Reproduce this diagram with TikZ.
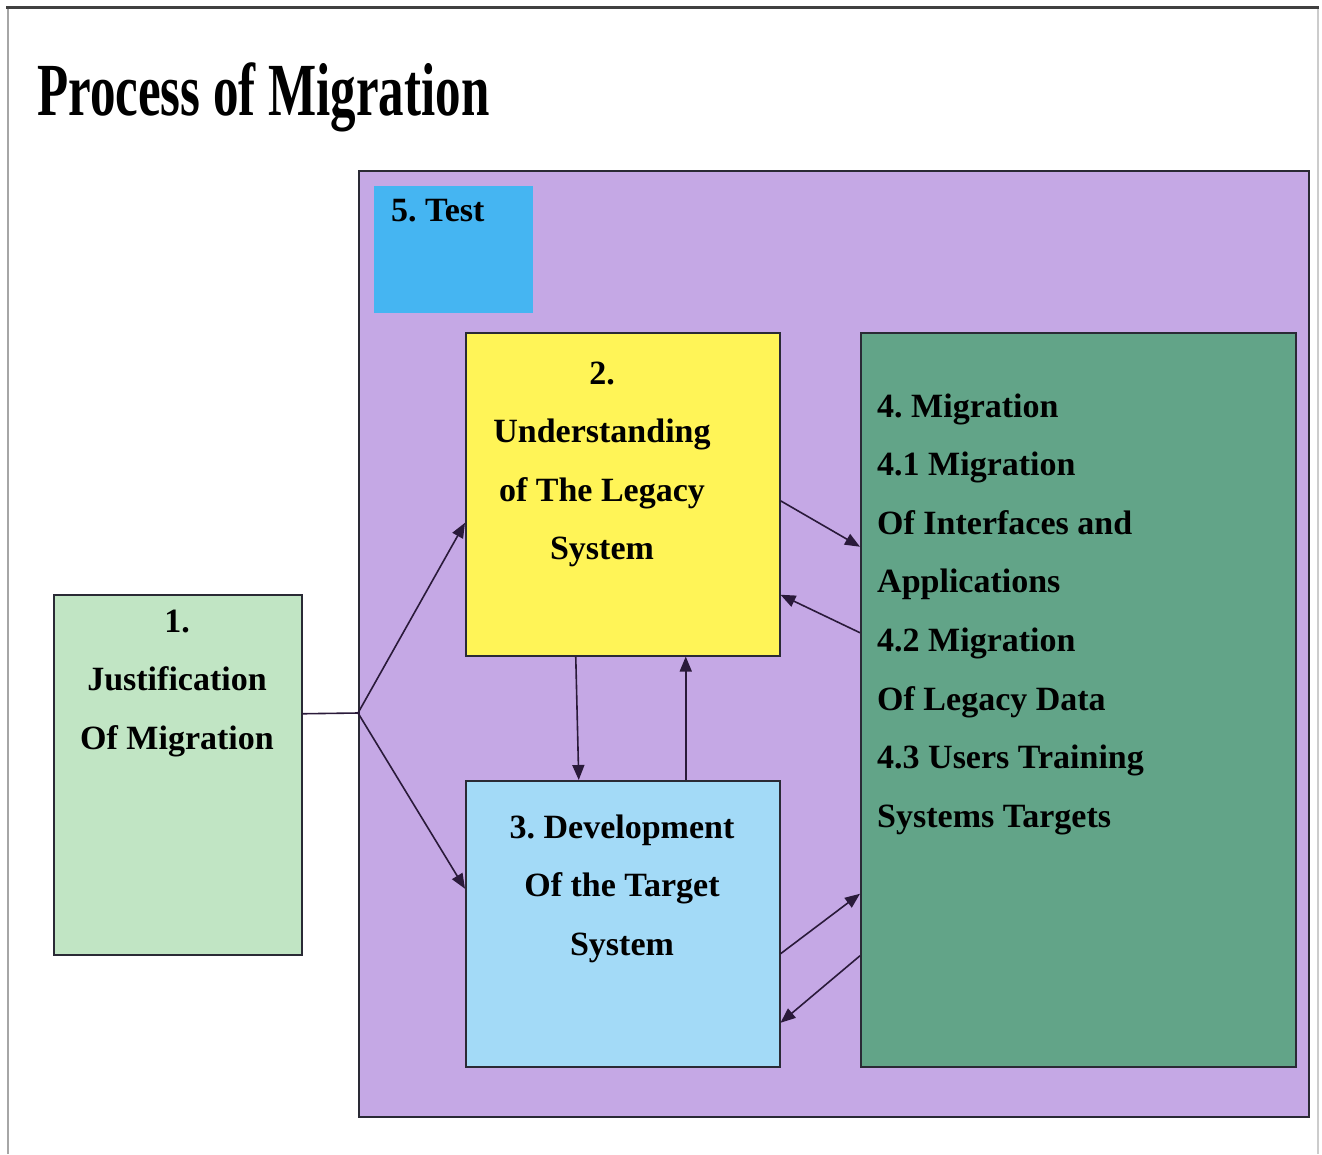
\documentclass[tikz,border=0pt]{standalone}
\usepackage{fontspec}
\setmainfont{Liberation Serif}
\usetikzlibrary{arrows.meta}
\definecolor{purplebg}{HTML}{C5A8E5}
\definecolor{testblue}{HTML}{45B5F2}
\definecolor{yellowbox}{HTML}{FFF457}
\definecolor{lightblue}{HTML}{A3DAF7}
\definecolor{darkgreen}{HTML}{62A488}
\definecolor{lightgreen}{HTML}{C1E5C4}
\definecolor{edge}{HTML}{2A2A35}
\definecolor{arrowcol}{HTML}{2A1A3A}
\newcommand\bodyfont{\fontsize{34}{58.6}\selectfont\bfseries\frenchspacing}
\begin{document}
\begin{tikzpicture}[x=1pt,y=-1pt,
  box/.style={draw=edge, line width=1.5pt, anchor=north west, inner sep=0pt, minimum width=#1},
  txt/.style={anchor=base, inner sep=0pt},
  conn/.style={draw=arrowcol, line width=1.6pt},
  arr/.style={conn, -{Triangle[length=15pt,width=12pt]}}
]
\useasboundingbox (0,0) rectangle (1322,1154);
% outer frame
\draw[gray!70, line width=1.5pt] (8,1154) -- (8,7);
\draw[gray!40, line width=1.2pt] (1318,7) -- (1318,1154);
\draw[black!75, line width=3pt] (6,7) -- (1319,7);
% title
\node[anchor=base west, inner sep=0pt] (title) at (37,115)
  {\scalebox{0.68}[1]{\fontsize{75}{80}\selectfont\bfseries Process of Migration}};
% purple test frame
\node[box=950pt, fill=purplebg, minimum height=946pt] (P) at (358,170) {};
% test box
\node[anchor=north west, inner sep=0pt, fill=testblue, minimum width=159pt, minimum height=127pt] (T) at (374,186) {};
\node[anchor=base west, inner sep=0pt] (Tt) at (391,221) {\bodyfont 5. Test};
% boxes
\node[box=248pt, fill=lightgreen, minimum height=360pt] (J) at (53,594) {};
\node[box=314pt, fill=yellowbox, minimum height=323pt] (Y) at (465,332) {};
\node[box=314pt, fill=lightblue, minimum height=286pt] (D) at (465,780) {};
\node[box=435pt, fill=darkgreen, minimum height=734pt] (M) at (860,332) {};
% texts
\node[txt] (Jt) at (177,632) {\parbox[t]{244pt}{\centering\bodyfont 1.\\Justification\\Of Migration}};
\node[txt] (Yt) at (602,384) {\parbox[t]{310pt}{\centering\bodyfont 2.\\Understanding\\of The Legacy\\System}};
\node[txt] (Dt) at (622,838) {\parbox[t]{310pt}{\centering\bodyfont 3. Development\\Of the Target\\System}};
\node[anchor=base west, inner sep=0pt] (Mt) at (877,417) {\parbox[t]{415pt}{\raggedright\bodyfont 4. Migration\\4.1 Migration\\Of Interfaces and\\Applications\\4.2 Migration\\Of Legacy Data\\4.3 Users Training\\Systems Targets}};
% connectors
\coordinate (j) at (358,713);
\draw[conn] ([yshift=61pt]J.east) -- (j);
\draw[arr] (j) -- ([yshift=-28.5pt]Y.west);
\draw[arr] (j) -- ([yshift=35pt]D.west);
\draw[arr] ([yshift=-6.5pt]Y.east) -- ([yshift=153pt]M.west);
\draw[arr] ([yshift=67pt]M.west) -- ([yshift=-100.5pt]Y.east);
\draw[arr] ([xshift=-47pt]Y.south) -- ([xshift=-44pt]D.north);
\draw[arr] ([xshift=63pt]D.north) -- ([xshift=63pt]Y.south);
\draw[arr] ([yshift=-30pt]D.east) -- ([yshift=-194pt]M.west);
\draw[arr] ([yshift=-256pt]M.west) -- ([yshift=-99pt]D.east);
\end{tikzpicture}
\end{document}
